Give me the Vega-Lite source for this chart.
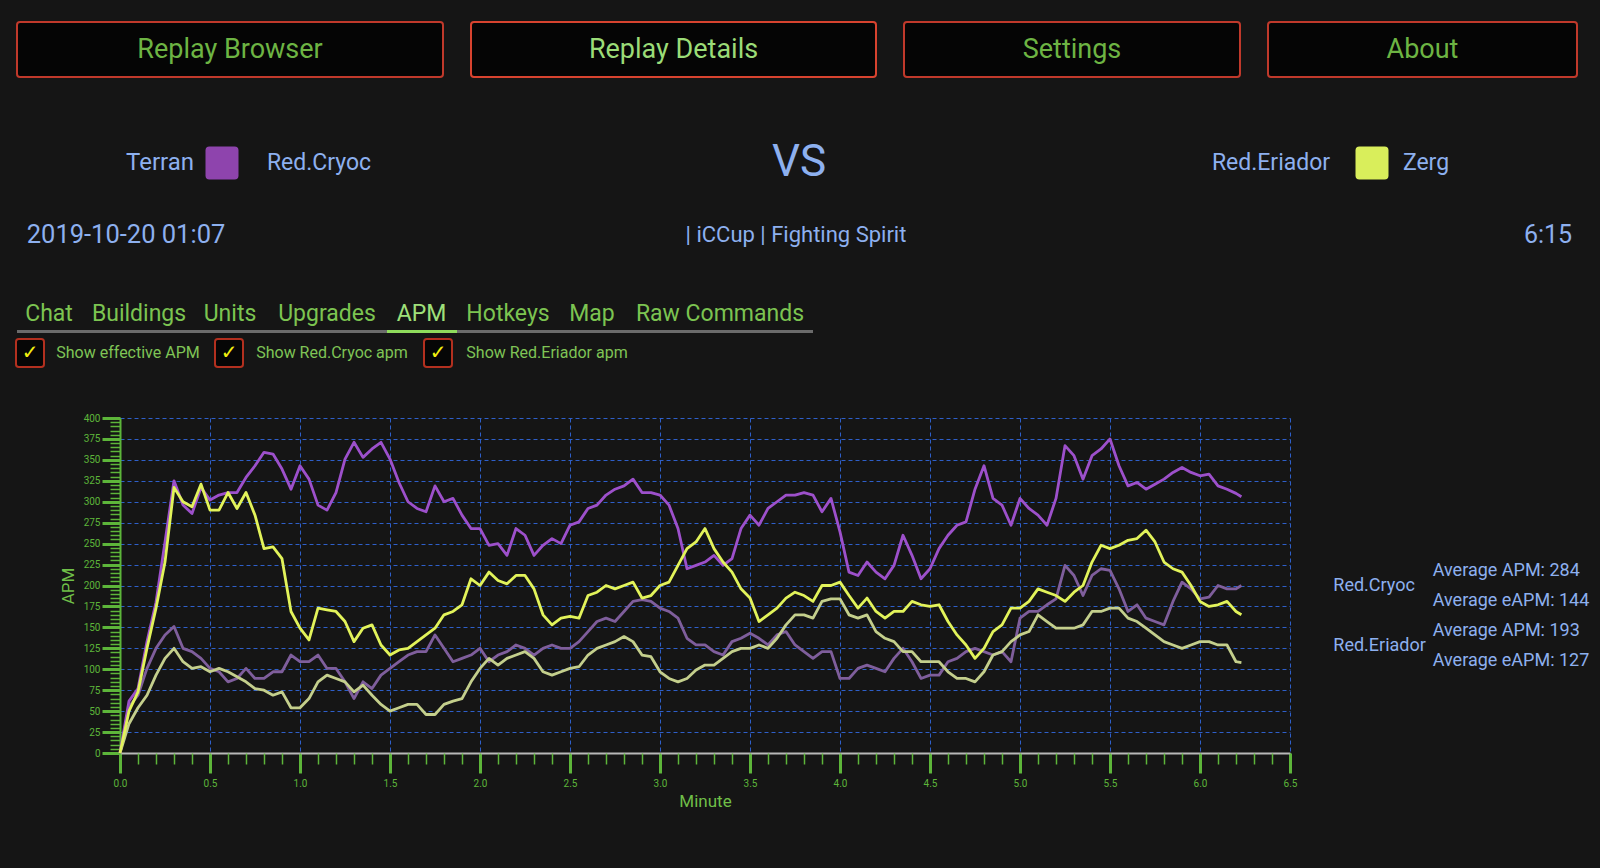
{
"$schema": "https://vega.github.io/schema/vega-lite/v6.json",
"background": "#151515",
"padding": {"left": 12, "top": 21, "right": 18, "bottom": 0},
"config": {"view": {"stroke": null}, "text": {"font": "Roboto"}, "axis": {"labelFont": "Roboto", "titleFont": "Roboto"}},
"spacing": 0,
"vconcat": [
 {"hconcat": [
  {"width": 426, "height": 55, "data": {"values": [{"label": "Replay Browser"}]}, "layer": [
    {"mark": {"type": "rect", "fill": "#050505", "stroke": "#c0392b", "strokeWidth": 2, "cornerRadius": 3}, "encoding": {}},
    {"mark": {"type": "text", "color": "#6db443", "fontSize": 27}, "encoding": {"text": {"field": "label"}}}]},
  {"width": 405, "height": 55, "data": {"values": [{"label": "Replay Details"}]}, "layer": [
    {"mark": {"type": "rect", "fill": "#050505", "stroke": "#d8432f", "strokeWidth": 2, "cornerRadius": 3}, "encoding": {}},
    {"mark": {"type": "text", "color": "#9bdc77", "fontSize": 27}, "encoding": {"text": {"field": "label"}}}]},
  {"width": 336, "height": 55, "data": {"values": [{"label": "Settings"}]}, "layer": [
    {"mark": {"type": "rect", "fill": "#050505", "stroke": "#c0392b", "strokeWidth": 2, "cornerRadius": 3}, "encoding": {}},
    {"mark": {"type": "text", "color": "#6db443", "fontSize": 27}, "encoding": {"text": {"field": "label"}}}]},
  {"width": 309, "height": 55, "data": {"values": [{"label": "About"}]}, "layer": [
    {"mark": {"type": "rect", "fill": "#050505", "stroke": "#c0392b", "strokeWidth": 2, "cornerRadius": 3}, "encoding": {}},
    {"mark": {"type": "text", "color": "#6db443", "fontSize": 27}, "encoding": {"text": {"field": "label"}}}]}
 ], "spacing": 28, "bounds": "flush"},
 {"width": 10, "height": 52, "data": {"values": [{}]}, "mark": {"type": "text"}, "encoding": {"text": {"value": ""}}},
 {"hconcat": [
  {"width": 108, "height": 66, "data": {"values": [{}]}, "mark": {"type": "text"}, "encoding": {"text": {"value": ""}}},
  {"width": 70, "height": 66, "data": {"values": [{"label": "Terran"}]}, "mark": {"type": "text", "color": "#8db0ef", "fontSize": 24}, "encoding": {"text": {"field": "label"}}},
  {"width": 54, "height": 66, "data": {"values": [{"race": "Terran"}]}, "mark": {"type": "point", "shape": "M-1,-0.76 Q-1,-1 -0.76,-1 L0.76,-1 Q1,-1 1,-0.76 L1,0.76 Q1,1 0.76,1 L-0.76,1 Q-1,1 -1,0.76 Z", "filled": true, "size": 1089, "color": "#8e44ad", "opacity": 1}, "encoding": {}},
  {"width": 140, "height": 66, "data": {"values": [{"label": "Red.Cryoc"}]}, "mark": {"type": "text", "color": "#8db0ef", "fontSize": 23}, "encoding": {"text": {"field": "label"}}},
  {"width": 820, "height": 66, "data": {"values": [{"label": "VS"}]}, "mark": {"type": "text", "color": "#8db0ef", "fontSize": 44}, "encoding": {"text": {"field": "label"}}},
  {"width": 124, "height": 66, "data": {"values": [{"label": "Red.Eriador"}]}, "mark": {"type": "text", "color": "#8db0ef", "fontSize": 23}, "encoding": {"text": {"field": "label"}}},
  {"width": 78, "height": 66, "data": {"values": [{"race": "Zerg"}]}, "mark": {"type": "point", "shape": "M-1,-0.76 Q-1,-1 -0.76,-1 L0.76,-1 Q1,-1 1,-0.76 L1,0.76 Q1,1 0.76,1 L-0.76,1 Q-1,1 -1,0.76 Z", "filled": true, "size": 1089, "color": "#d9ee5b", "opacity": 1}, "encoding": {}},
  {"width": 30, "height": 66, "data": {"values": [{"label": "Zerg"}]}, "mark": {"type": "text", "color": "#8db0ef", "fontSize": 23}, "encoding": {"text": {"field": "label"}}}
 ], "spacing": 0, "bounds": "flush"},
 {"hconcat": [
  {"width": 218, "height": 78, "data": {"values": [{"label": "2019-10-20 01:07"}]}, "mark": {"type": "text", "color": "#8db0ef", "fontSize": 25.5}, "encoding": {"text": {"field": "label"}}},
  {"width": 1122, "height": 78, "data": {"values": [{"label": "| iCCup | Fighting Spirit"}]}, "mark": {"type": "text", "color": "#8db0ef", "fontSize": 22}, "encoding": {"text": {"field": "label"}}},
  {"width": 167, "height": 78, "data": {"values": [{}]}, "mark": {"type": "text"}, "encoding": {"text": {"value": ""}}},
  {"width": 48, "height": 78, "data": {"values": [{"label": "6:15"}]}, "mark": {"type": "text", "color": "#8db0ef", "fontSize": 25}, "encoding": {"text": {"field": "label"}}}
 ], "spacing": 0, "bounds": "flush"},
 {"width": 10, "height": 24, "data": {"values": [{}]}, "mark": {"type": "text"}, "encoding": {"text": {"value": ""}}},
 {"hconcat": [
  {"width": 64, "height": 32, "data": {"values": [{"label": "Chat"}]}, "mark": {"type": "text", "color": "#7cc451", "fontSize": 23}, "encoding": {"text": {"field": "label"}}},
  {"width": 116, "height": 32, "data": {"values": [{"label": "Buildings"}]}, "mark": {"type": "text", "color": "#7cc451", "fontSize": 23}, "encoding": {"text": {"field": "label"}}},
  {"width": 66, "height": 32, "data": {"values": [{"label": "Units"}]}, "mark": {"type": "text", "color": "#7cc451", "fontSize": 23}, "encoding": {"text": {"field": "label"}}},
  {"width": 128, "height": 32, "data": {"values": [{"label": "Upgrades"}]}, "mark": {"type": "text", "color": "#7cc451", "fontSize": 23}, "encoding": {"text": {"field": "label"}}},
  {"width": 61, "height": 32, "data": {"values": [{"label": "APM"}]}, "mark": {"type": "text", "color": "#9fe07a", "fontSize": 23}, "encoding": {"text": {"field": "label"}}},
  {"width": 112, "height": 32, "data": {"values": [{"label": "Hotkeys"}]}, "mark": {"type": "text", "color": "#7cc451", "fontSize": 23}, "encoding": {"text": {"field": "label"}}},
  {"width": 56, "height": 32, "data": {"values": [{"label": "Map"}]}, "mark": {"type": "text", "color": "#7cc451", "fontSize": 23}, "encoding": {"text": {"field": "label"}}},
  {"width": 200, "height": 32, "data": {"values": [{"label": "Raw Commands"}]}, "mark": {"type": "text", "color": "#7cc451", "fontSize": 23}, "encoding": {"text": {"field": "label"}}}
 ], "spacing": 0, "bounds": "flush"},
 {"hconcat": [
  {"width": 370, "height": 3, "data": {"values": [{}]}, "mark": {"type": "rect", "color": "#6b6b6b"}, "encoding": {}},
  {"width": 70, "height": 3, "data": {"values": [{}]}, "mark": {"type": "rect", "color": "#8fdc5c"}, "encoding": {}},
  {"width": 356, "height": 3, "data": {"values": [{}]}, "mark": {"type": "rect", "color": "#6b6b6b"}, "encoding": {}}
 ], "spacing": 0, "bounds": "flush"},
 {"hconcat": [
  {"width": 26, "height": 40, "data": {"values": [{"check": "✓"}]}, "layer": [
    {"mark": {"type": "point", "shape": "M-1,-0.8 Q-1,-1 -0.8,-1 L0.8,-1 Q1,-1 1,-0.8 L1,0.8 Q1,1 0.8,1 L-0.8,1 Q-1,1 -1,0.8 Z", "size": 784, "filled": true, "fill": "#060606", "stroke": "#b3301f", "strokeWidth": 2, "opacity": 1}, "encoding": {}},
    {"mark": {"type": "text", "font": "DejaVu Sans", "fontSize": 20, "fontWeight": "bold", "color": "#f2ee10"}, "encoding": {"text": {"field": "check"}}}]},
  {"width": 170, "height": 40, "data": {"values": [{"label": "Show effective APM"}]}, "mark": {"type": "text", "color": "#7fc456", "fontSize": 16}, "encoding": {"text": {"field": "label"}}},
  {"width": 32, "height": 40, "data": {"values": [{"check": "✓"}]}, "layer": [
    {"mark": {"type": "point", "shape": "M-1,-0.8 Q-1,-1 -0.8,-1 L0.8,-1 Q1,-1 1,-0.8 L1,0.8 Q1,1 0.8,1 L-0.8,1 Q-1,1 -1,0.8 Z", "size": 784, "filled": true, "fill": "#060606", "stroke": "#b3301f", "strokeWidth": 2, "opacity": 1}, "encoding": {}},
    {"mark": {"type": "text", "font": "DejaVu Sans", "fontSize": 20, "fontWeight": "bold", "color": "#f2ee10"}, "encoding": {"text": {"field": "check"}}}]},
  {"width": 174, "height": 40, "data": {"values": [{"label": "Show Red.Cryoc apm"}]}, "mark": {"type": "text", "color": "#7fc456", "fontSize": 16}, "encoding": {"text": {"field": "label"}}},
  {"width": 38, "height": 40, "data": {"values": [{"check": "✓"}]}, "layer": [
    {"mark": {"type": "point", "shape": "M-1,-0.8 Q-1,-1 -0.8,-1 L0.8,-1 Q1,-1 1,-0.8 L1,0.8 Q1,1 0.8,1 L-0.8,1 Q-1,1 -1,0.8 Z", "size": 784, "filled": true, "fill": "#060606", "stroke": "#b3301f", "strokeWidth": 2, "opacity": 1}, "encoding": {}},
    {"mark": {"type": "text", "font": "DejaVu Sans", "fontSize": 20, "fontWeight": "bold", "color": "#f2ee10"}, "encoding": {"text": {"field": "check"}}}]},
  {"width": 180, "height": 40, "data": {"values": [{"label": "Show Red.Eriador apm"}]}, "mark": {"type": "text", "color": "#7fc456", "fontSize": 16}, "encoding": {"text": {"field": "label"}}}
 ], "spacing": 0, "bounds": "flush"},
 {"width": 10, "height": 40, "data": {"values": [{}]}, "mark": {"type": "text"}, "encoding": {"text": {"value": ""}}},
 {"hconcat": [
  {"width": 102.7, "height": 335, "data": {"values": [{}]}, "mark": {"type": "text"}, "encoding": {"text": {"value": ""}}},
  {"width": 1170, "height": 335,
   "data": {"values": [
{"m":0.00,"ca":0,"ce":0,"ea":0,"ee":0},
{"m":0.05,"ca":62,"ce":55,"ea":50,"ee":35},
{"m":0.10,"ca":77,"ce":69,"ea":73,"ee":54},
{"m":0.15,"ca":133,"ce":101,"ea":125,"ee":69},
{"m":0.20,"ca":180,"ce":125,"ea":173,"ee":93},
{"m":0.25,"ca":252,"ce":141,"ea":228,"ee":113},
{"m":0.30,"ca":325,"ce":151,"ea":317,"ee":125},
{"m":0.35,"ca":296,"ce":125,"ea":300,"ee":109},
{"m":0.40,"ca":286,"ce":121,"ea":294,"ee":101},
{"m":0.45,"ca":317,"ce":113,"ea":321,"ee":103},
{"m":0.50,"ca":302,"ce":101,"ea":290,"ee":97},
{"m":0.55,"ca":308,"ce":97,"ea":290,"ee":101},
{"m":0.60,"ca":311,"ce":85,"ea":311,"ee":97},
{"m":0.65,"ca":311,"ce":89,"ea":292,"ee":91},
{"m":0.70,"ca":329,"ce":101,"ea":311,"ee":85},
{"m":0.75,"ca":343,"ce":89,"ea":284,"ee":77},
{"m":0.80,"ca":359,"ce":89,"ea":244,"ee":75},
{"m":0.85,"ca":357,"ce":97,"ea":246,"ee":69},
{"m":0.90,"ca":339,"ce":97,"ea":232,"ee":73},
{"m":0.95,"ca":315,"ce":117,"ea":169,"ee":54},
{"m":1.00,"ca":343,"ce":109,"ea":149,"ee":54},
{"m":1.05,"ca":327,"ce":109,"ea":135,"ee":65},
{"m":1.10,"ca":296,"ce":117,"ea":173,"ee":85},
{"m":1.15,"ca":290,"ce":101,"ea":171,"ee":93},
{"m":1.20,"ca":311,"ce":101,"ea":169,"ee":89},
{"m":1.25,"ca":351,"ce":85,"ea":157,"ee":85},
{"m":1.30,"ca":371,"ce":65,"ea":133,"ee":73},
{"m":1.35,"ca":353,"ce":85,"ea":149,"ee":81},
{"m":1.40,"ca":363,"ce":77,"ea":153,"ee":69},
{"m":1.45,"ca":371,"ce":93,"ea":129,"ee":58},
{"m":1.50,"ca":351,"ce":101,"ea":117,"ee":50},
{"m":1.55,"ca":323,"ce":109,"ea":123,"ee":54},
{"m":1.60,"ca":300,"ce":117,"ea":125,"ee":58},
{"m":1.65,"ca":292,"ce":121,"ea":133,"ee":58},
{"m":1.70,"ca":288,"ce":121,"ea":141,"ee":46},
{"m":1.75,"ca":319,"ce":141,"ea":149,"ee":46},
{"m":1.80,"ca":300,"ce":125,"ea":165,"ee":58},
{"m":1.85,"ca":304,"ce":109,"ea":169,"ee":62},
{"m":1.90,"ca":284,"ce":113,"ea":177,"ee":65},
{"m":1.95,"ca":268,"ce":117,"ea":208,"ee":85},
{"m":2.00,"ca":268,"ce":125,"ea":200,"ee":101},
{"m":2.05,"ca":248,"ce":109,"ea":216,"ee":113},
{"m":2.10,"ca":250,"ce":117,"ea":206,"ee":105},
{"m":2.15,"ca":236,"ce":121,"ea":202,"ee":113},
{"m":2.20,"ca":268,"ce":129,"ea":212,"ee":117},
{"m":2.25,"ca":260,"ce":125,"ea":212,"ee":121},
{"m":2.30,"ca":236,"ce":117,"ea":196,"ee":113},
{"m":2.35,"ca":248,"ce":125,"ea":165,"ee":97},
{"m":2.40,"ca":256,"ce":129,"ea":153,"ee":93},
{"m":2.45,"ca":250,"ce":125,"ea":161,"ee":97},
{"m":2.50,"ca":272,"ce":125,"ea":163,"ee":101},
{"m":2.55,"ca":276,"ce":133,"ea":161,"ee":103},
{"m":2.60,"ca":292,"ce":145,"ea":188,"ee":117},
{"m":2.65,"ca":296,"ce":157,"ea":192,"ee":125},
{"m":2.70,"ca":308,"ce":161,"ea":200,"ee":129},
{"m":2.75,"ca":315,"ce":157,"ea":196,"ee":133},
{"m":2.80,"ca":319,"ce":169,"ea":200,"ee":139},
{"m":2.85,"ca":327,"ce":181,"ea":204,"ee":133},
{"m":2.90,"ca":311,"ce":183,"ea":185,"ee":117},
{"m":2.95,"ca":311,"ce":181,"ea":188,"ee":115},
{"m":3.00,"ca":308,"ce":173,"ea":200,"ee":97},
{"m":3.05,"ca":296,"ce":169,"ea":204,"ee":89},
{"m":3.10,"ca":268,"ce":161,"ea":224,"ee":85},
{"m":3.15,"ca":220,"ce":137,"ea":244,"ee":89},
{"m":3.20,"ca":224,"ce":129,"ea":252,"ee":99},
{"m":3.25,"ca":228,"ce":129,"ea":268,"ee":105},
{"m":3.30,"ca":236,"ce":121,"ea":244,"ee":105},
{"m":3.35,"ca":224,"ce":117,"ea":228,"ee":113},
{"m":3.40,"ca":232,"ce":133,"ea":216,"ee":121},
{"m":3.45,"ca":268,"ce":137,"ea":196,"ee":125},
{"m":3.50,"ca":284,"ce":143,"ea":185,"ee":125},
{"m":3.55,"ca":272,"ce":137,"ea":157,"ee":129},
{"m":3.60,"ca":292,"ce":129,"ea":165,"ee":125},
{"m":3.65,"ca":300,"ce":141,"ea":173,"ee":137},
{"m":3.70,"ca":308,"ce":145,"ea":185,"ee":153},
{"m":3.75,"ca":308,"ce":129,"ea":192,"ee":165},
{"m":3.80,"ca":311,"ce":121,"ea":188,"ee":165},
{"m":3.85,"ca":308,"ce":113,"ea":181,"ee":161},
{"m":3.90,"ca":288,"ce":121,"ea":200,"ee":181},
{"m":3.95,"ca":304,"ce":121,"ea":200,"ee":184},
{"m":4.00,"ca":264,"ce":89,"ea":204,"ee":184},
{"m":4.05,"ca":216,"ce":89,"ea":188,"ee":165},
{"m":4.10,"ca":212,"ce":101,"ea":173,"ee":161},
{"m":4.15,"ca":228,"ce":105,"ea":185,"ee":165},
{"m":4.20,"ca":216,"ce":101,"ea":169,"ee":145},
{"m":4.25,"ca":208,"ce":97,"ea":161,"ee":137},
{"m":4.30,"ca":224,"ce":113,"ea":169,"ee":133},
{"m":4.35,"ca":260,"ce":125,"ea":169,"ee":121},
{"m":4.40,"ca":236,"ce":109,"ea":181,"ee":121},
{"m":4.45,"ca":208,"ce":89,"ea":177,"ee":109},
{"m":4.50,"ca":220,"ce":93,"ea":175,"ee":109},
{"m":4.55,"ca":244,"ce":93,"ea":177,"ee":109},
{"m":4.60,"ca":260,"ce":109,"ea":157,"ee":97},
{"m":4.65,"ca":272,"ce":113,"ea":141,"ee":89},
{"m":4.70,"ca":276,"ce":121,"ea":129,"ee":89},
{"m":4.75,"ca":315,"ce":125,"ea":113,"ee":85},
{"m":4.80,"ca":343,"ce":121,"ea":125,"ee":97},
{"m":4.85,"ca":304,"ce":117,"ea":145,"ee":117},
{"m":4.90,"ca":296,"ce":121,"ea":153,"ee":121},
{"m":4.95,"ca":272,"ce":109,"ea":173,"ee":133},
{"m":5.00,"ca":304,"ce":161,"ea":173,"ee":141},
{"m":5.05,"ca":292,"ce":169,"ea":181,"ee":145},
{"m":5.10,"ca":284,"ce":169,"ea":196,"ee":165},
{"m":5.15,"ca":272,"ce":177,"ea":192,"ee":157},
{"m":5.20,"ca":304,"ce":184,"ea":188,"ee":149},
{"m":5.25,"ca":367,"ce":224,"ea":181,"ee":149},
{"m":5.30,"ca":355,"ce":212,"ea":192,"ee":149},
{"m":5.35,"ca":327,"ce":188,"ea":200,"ee":153},
{"m":5.40,"ca":355,"ce":212,"ea":228,"ee":169},
{"m":5.45,"ca":363,"ce":220,"ea":248,"ee":169},
{"m":5.50,"ca":375,"ce":218,"ea":244,"ee":173},
{"m":5.55,"ca":343,"ce":196,"ea":248,"ee":173},
{"m":5.60,"ca":319,"ce":169,"ea":254,"ee":161},
{"m":5.65,"ca":323,"ce":177,"ea":256,"ee":157},
{"m":5.70,"ca":315,"ce":161,"ea":266,"ee":149},
{"m":5.75,"ca":321,"ce":157,"ea":252,"ee":141},
{"m":5.80,"ca":327,"ce":153,"ea":228,"ee":133},
{"m":5.85,"ca":335,"ce":181,"ea":220,"ee":129},
{"m":5.90,"ca":341,"ce":204,"ea":216,"ee":125},
{"m":5.95,"ca":335,"ce":196,"ea":200,"ee":129},
{"m":6.00,"ca":331,"ce":184,"ea":181,"ee":133},
{"m":6.05,"ca":333,"ce":186,"ea":175,"ee":133},
{"m":6.10,"ca":319,"ce":200,"ea":177,"ee":129},
{"m":6.15,"ca":315,"ce":196,"ea":181,"ee":129},
{"m":6.20,"ca":310,"ce":196,"ea":169,"ee":109},
{"m":6.23,"ca":306,"ce":200,"ea":165,"ee":108}
   ]},
   "transform": [{"fold": ["ce", "ee", "ca", "ea"], "as": ["series", "apm"]}],
   "layer": [
    {"mark": {"type": "line", "strokeWidth": 2.8, "strokeJoin": "round"},
     "encoding": {
      "x": {"field": "m", "type": "quantitative", "scale": {"domain": [0, 6.5], "nice": false, "zero": false},
        "axis": {"orient": "bottom", "values": [0,0.5,1,1.5,2,2.5,3,3.5,4,4.5,5,5.5,6,6.5], "format": ".1f", "domainColor": "#b8b8b8", "domainWidth": 2, "tickColor": "#5db53a", "tickWidth": 3, "tickSize": 20, "labelColor": "#5db53a", "labelFontSize": 10, "labelPadding": 5, "labelFlush": false, "labelOverlap": false, "grid": true, "gridColor": "#2e5fc9", "gridDash": [4, 3], "gridWidth": 1, "title": "Minute", "titleColor": "#6fbf48", "titleFontSize": 17, "titleFontWeight": "normal", "titlePadding": 5}},
      "y": {"field": "apm", "type": "quantitative", "scale": {"domain": [0, 400], "nice": false},
        "axis": {"orient": "left", "values": [0,25,50,75,100,125,150,175,200,225,250,275,300,325,350,375,400], "domainColor": "#5db53a", "domainWidth": 2, "tickColor": "#5db53a", "tickWidth": 3, "tickSize": 18, "labelColor": "#5db53a", "labelFontSize": 10, "labelPadding": 2, "labelFlush": false, "labelOverlap": false, "grid": true, "gridColor": "#2e5fc9", "gridDash": [4, 3], "gridWidth": 1, "title": "APM", "titleColor": "#6fbf48", "titleFontSize": 17, "titleFontWeight": "normal", "titlePadding": 6}},
      "color": {"field": "series", "type": "nominal", "scale": {"domain": ["ce", "ee", "ca", "ea"], "range": ["#7f5e9c", "#c4cf8c", "#9d50cb", "#e2f35a"]}, "legend": null}
     }},
    {"mark": {"type": "point", "opacity": 0},
     "encoding": {
      "x": {"field": "m", "type": "quantitative", "scale": {"domain": [0, 6.5], "nice": false, "zero": false},
        "axis": {"orient": "bottom", "tickCount": 65, "labels": false, "domain": false, "grid": false, "tickColor": "#5db53a", "tickWidth": 1.5, "tickSize": 11, "title": null}},
      "y": {"field": "apm", "type": "quantitative", "scale": {"domain": [0, 400], "nice": false},
        "axis": {"orient": "left", "tickCount": 80, "labels": false, "domain": false, "grid": false, "tickColor": "#5db53a", "tickWidth": 1.5, "tickSize": 10, "title": null}}
     }}
   ],
   "resolve": {"axis": {"x": "independent", "y": "independent"}}
  },
  {"width": 86.6, "height": 396, "data": {"values": [{"n": "Red.Cryoc"}, {"n": "Red.Eriador"}]},
   "mark": {"type": "text", "align": "left", "color": "#8db0ef", "fontSize": 18},
   "encoding": {"y": {"field": "n", "type": "nominal", "sort": null, "axis": null, "scale": {"type": "point", "padding": 0.8, "domain": ["_a", "_b", "Red.Cryoc", "Red.Eriador", "_c", "_d"]}}, "text": {"field": "n"}}},
  {"width": 111.4, "height": 396, "data": {"values": [{"a": "Average APM: 284"}, {"a": "Average eAPM: 144"}, {"a": "Average APM: 193"}, {"a": "Average eAPM: 127"}]},
   "mark": {"type": "text", "align": "left", "color": "#8db0ef", "fontSize": 18},
   "encoding": {"y": {"field": "a", "type": "nominal", "sort": null, "axis": null, "scale": {"type": "point", "padding": 0.1, "domain": ["_1", "_2", "_3", "_4", "_5", "Average APM: 284", "Average eAPM: 144", "Average APM: 193", "Average eAPM: 127", "_6", "_7", "_8", "_9", "_10"]}}, "text": {"field": "a"}}}
 ], "spacing": 0, "bounds": "flush"},
 {"width": 10, "height": 54, "data": {"values": [{}]}, "mark": {"type": "text"}, "encoding": {"text": {"value": ""}}}
]
}
